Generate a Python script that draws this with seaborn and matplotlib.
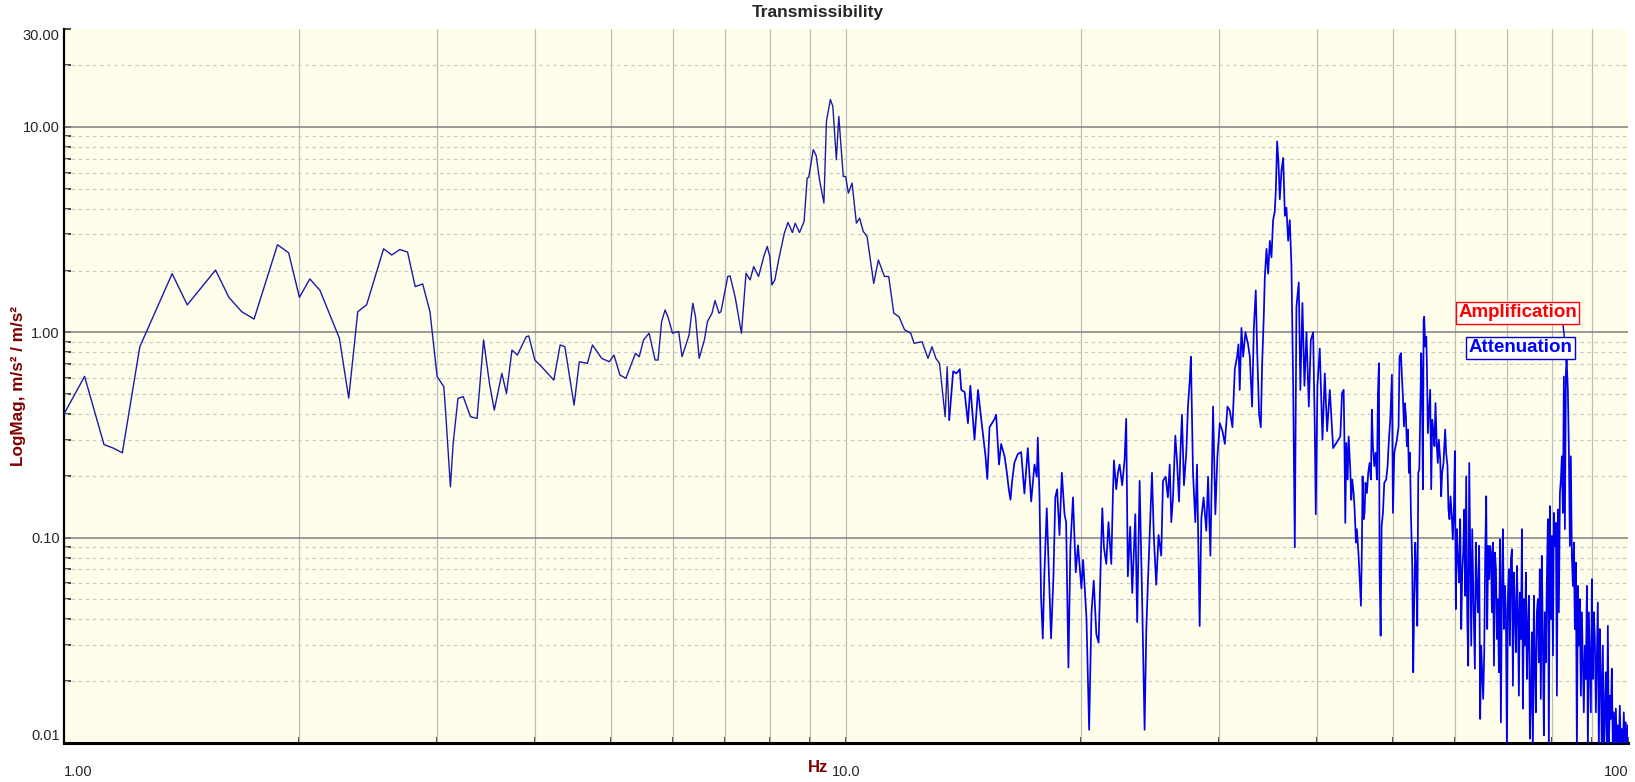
import numpy as np
import pandas as pd
import matplotlib
matplotlib.use("Agg")
import matplotlib.pyplot as plt
import seaborn as sns

sns.set_style("white")
plt.rcParams["font.family"] = ["Liberation Sans", "DejaVu Sans"]

# 1 - 13.5 Hz
freq_low = [1.0, 1.0625, 1.125, 1.156, 1.1875, 1.25, 1.375, 1.4375, 1.5625, 1.625,
            1.6875, 1.75, 1.875, 1.9375, 2.0, 2.0625, 2.125, 2.25, 2.3125, 2.375,
            2.4375, 2.5625, 2.625, 2.6875, 2.75, 2.8125, 2.875, 2.9375, 3.0, 3.06,
            3.075, 3.12, 3.145, 3.19, 3.24, 3.31, 3.375, 3.44, 3.50, 3.55,
            3.63, 3.68, 3.74, 3.80, 3.90, 3.93, 4.0, 4.08, 4.23, 4.31,
            4.37, 4.49, 4.56, 4.67, 4.74, 4.87, 4.98, 5.05, 5.14, 5.23,
            5.38, 5.44, 5.51, 5.60, 5.70, 5.75, 5.81, 5.87, 5.92, 6.0,
            6.11, 6.17, 6.30, 6.37, 6.42, 6.49, 6.59, 6.65, 6.74, 6.80,
            6.88, 6.92, 7.06, 7.11, 7.22, 7.35, 7.45, 7.54, 7.62, 7.73,
            7.85, 7.93, 7.99, 8.04, 8.11, 8.21, 8.34, 8.43, 8.54, 8.61,
            8.72, 8.84, 8.92, 8.96, 9.08, 9.16, 9.25, 9.37, 9.44, 9.55,
            9.62, 9.72, 9.79, 9.92, 9.99, 10.07, 10.18, 10.31, 10.41, 10.52,
            10.64, 10.85, 11.0, 11.2, 11.34, 11.51, 11.69, 11.88, 12.10, 12.22,
            12.51, 12.73, 12.88, 13.03, 13.17, 13.39, 13.47, 13.55]
mag_low = [0.40, 0.61, 0.284, 0.273, 0.259, 0.85, 1.93, 1.36, 2.01, 1.48,
           1.26, 1.16, 2.67, 2.44, 1.48, 1.82, 1.60, 0.935, 0.478, 1.26,
           1.36, 2.55, 2.38, 2.53, 2.46, 1.67, 1.72, 1.26, 0.61, 0.543,
           0.418, 0.177, 0.287, 0.477, 0.486, 0.388, 0.381, 0.918, 0.564, 0.418,
           0.631, 0.504, 0.82, 0.775, 0.952, 0.96, 0.733, 0.68, 0.585, 0.868,
           0.851, 0.442, 0.719, 0.706, 0.868, 0.747, 0.719, 0.775, 0.619, 0.597,
           0.79, 0.761, 0.918, 0.99, 0.733, 0.733, 1.127, 1.285, 1.19, 0.99,
           1.01, 0.761, 0.97, 1.385, 1.19, 0.747, 0.918, 1.127, 1.24, 1.427,
           1.24, 1.26, 1.87, 1.88, 1.465, 0.99, 1.94, 1.80, 2.09, 1.87,
           2.34, 2.62, 2.34, 1.70, 1.80, 2.30, 3.04, 3.43, 3.06, 3.40,
           3.06, 3.47, 5.64, 5.68, 7.75, 7.25, 5.53, 4.26, 10.66, 13.6,
           12.6, 6.93, 11.27, 5.74, 5.74, 4.76, 5.33, 3.40, 3.60, 3.10,
           2.93, 1.73, 2.25, 1.87, 1.87, 1.24, 1.19, 1.03, 0.99, 0.884,
           0.90, 0.747, 0.851, 0.747, 0.706, 0.388, 0.68, 0.374]

# 13.5 - 42 Hz
freq_mid = [13.57, 13.71, 13.84, 13.98, 14.04, 14.18, 14.32, 14.42, 14.60, 14.75,
            14.89, 15.08, 15.16, 15.26, 15.49, 15.56, 15.69, 15.79, 15.95, 16.06,
            16.15, 16.23, 16.31, 16.42, 16.58, 16.75, 16.91, 17.08, 17.25, 17.42,
            17.54, 17.59, 17.68, 17.76, 17.85, 17.93, 18.06, 18.17, 18.29, 18.42,
            18.52, 18.62, 18.75, 18.88, 19.03, 19.12, 19.25, 19.36, 19.51, 19.67,
            19.80, 20.0, 20.10, 20.30, 20.46, 20.60, 20.74, 20.90, 21.04, 21.21,
            21.27, 21.37, 21.52, 21.66, 21.84, 21.94, 22.01, 22.16, 22.27, 22.38,
            22.55, 22.71, 22.82, 22.93, 23.09, 23.23, 23.44, 23.57, 23.74, 23.93,
            24.09, 24.21, 24.33, 24.45, 24.62, 24.76, 24.93, 25.10, 25.30, 25.43,
            25.63, 25.80, 25.94, 26.06, 26.19, 26.37, 26.50, 26.66, 26.76, 26.89,
            27.05, 27.24, 27.37, 27.51, 27.61, 27.78, 27.97, 28.11, 28.33, 28.47,
            28.66, 28.89, 29.04, 29.24, 29.47, 29.67, 29.85, 30.06, 30.30, 30.51,
            30.75, 30.96, 31.20, 31.42, 31.63, 31.76, 31.88, 32.04, 32.20, 32.42,
            32.67, 32.84, 33.06, 33.23, 33.42, 33.55, 33.75, 33.92, 34.05, 34.22,
            34.32, 34.49, 34.66, 34.83, 35.0, 35.17, 35.34, 35.45, 35.59, 35.73,
            35.87, 36.05, 36.23, 36.41, 36.58, 36.76, 36.94, 37.12, 37.31, 37.49,
            37.67, 37.93, 38.11, 38.34, 38.57, 38.80, 39.07, 39.30, 39.57, 39.76,
            39.88, 40.07, 40.35, 40.67, 40.95, 41.23, 41.56, 41.97]
mag_mid = [0.397, 0.646, 0.631, 0.661, 0.524, 0.512, 0.361, 0.549, 0.30, 0.524,
           0.379, 0.249, 0.193, 0.345, 0.379, 0.397, 0.227, 0.286, 0.249, 0.207,
           0.172, 0.153, 0.189, 0.232, 0.255, 0.261, 0.164, 0.273, 0.150, 0.227,
           0.198, 0.307, 0.157, 0.0513, 0.0323, 0.0648, 0.139, 0.0678, 0.0323, 0.0648,
           0.157, 0.172, 0.103, 0.207, 0.13, 0.119, 0.0233, 0.0897, 0.157, 0.0678,
           0.0918, 0.0565, 0.078, 0.0407, 0.0116, 0.0427, 0.0618, 0.0338, 0.0308, 0.0985,
           0.139, 0.0897, 0.0745, 0.119, 0.0745, 0.157, 0.238, 0.172, 0.207, 0.227,
           0.18, 0.238, 0.379, 0.0648, 0.113, 0.0538, 0.13, 0.0388, 0.189, 0.0447,
           0.0116, 0.0354, 0.0618, 0.103, 0.207, 0.0985, 0.059, 0.103, 0.0817, 0.189,
           0.198, 0.157, 0.227, 0.119, 0.157, 0.314, 0.238, 0.15, 0.249, 0.397,
           0.18, 0.261, 0.435, 0.575, 0.76, 0.207, 0.119, 0.227, 0.0371, 0.124,
           0.157, 0.108, 0.198, 0.0817, 0.435, 0.13, 0.249, 0.361, 0.33, 0.286,
           0.435, 0.416, 0.345, 0.661, 0.76, 0.874, 0.524, 1.05, 0.76, 1.0,
           0.874, 0.76, 0.435, 1.05, 1.60, 0.834, 0.397, 0.345, 0.693, 1.21,
           1.84, 2.55, 1.93, 2.79, 2.32, 3.52, 3.87, 4.88, 8.5, 6.75,
           4.45, 6.15, 7.07, 3.69, 4.05, 2.79, 3.52, 2.11, 0.549, 0.0897,
           1.33, 1.75, 0.524, 1.39, 0.549, 1.0, 0.435, 0.916, 1.0, 0.345,
           0.13, 0.549, 0.834, 0.30, 0.631, 0.33, 0.524, 0.273]

# 42 - 66.7 Hz
freq_high = [42.87, 43.08, 43.29, 43.38, 43.50, 43.63, 43.80, 43.93, 44.14, 44.27,
             44.40, 44.58, 44.71, 44.89, 45.01, 45.24, 45.46, 45.55, 45.68, 45.77,
             45.91, 46.04, 46.17, 46.36, 46.54, 46.72, 46.91, 47.04, 47.19, 47.37,
             47.56, 47.75, 47.89, 48.03, 48.12, 48.27, 48.41, 48.60, 48.79, 49.07,
             49.27, 49.46, 49.66, 49.90, 50.05, 50.25, 50.44, 50.64, 50.89, 51.03,
             51.24, 51.39, 51.54, 51.70, 51.85, 52.0, 52.15, 52.31, 52.46, 52.62,
             52.77, 52.98, 53.13, 53.29, 53.45, 53.61, 53.77, 53.93, 54.09, 54.24,
             54.40, 54.51, 54.67, 54.78, 54.88, 55.04, 55.21, 55.31, 55.47, 55.64,
             55.85, 56.02, 56.19, 56.41, 56.56, 56.73, 56.95, 57.12, 57.29, 57.52,
             57.69, 57.85, 58.08, 58.37, 58.54, 58.77, 58.94, 59.12, 59.30, 59.53,
             59.70, 59.88, 60.06, 60.24, 60.42, 60.60, 60.83, 61.01, 61.20, 61.38,
             61.56, 61.74, 61.92, 62.10, 62.29, 62.47, 62.66, 62.84, 63.03, 63.21,
             63.46, 63.71, 63.89, 64.08, 64.27, 64.52, 64.71, 64.90, 65.09, 65.28,
             65.48, 65.67, 65.87, 66.06, 66.26, 66.45, 66.65]
mag_high = [0.311, 0.506, 0.525, 0.311, 0.118, 0.289, 0.192, 0.311, 0.215, 0.153,
            0.192, 0.165, 0.137, 0.0946, 0.110, 0.0815, 0.054, 0.0466, 0.0912, 0.199,
            0.123, 0.132, 0.185, 0.165, 0.207, 0.231, 0.192, 0.42, 0.279, 0.223,
            0.259, 0.192, 0.506, 0.707, 0.0676, 0.0333, 0.114, 0.132, 0.185, 0.192,
            0.223, 0.30, 0.375, 0.621, 0.132, 0.259, 0.279, 0.30, 0.348, 0.762,
            0.791, 0.609, 0.488, 0.348, 0.452, 0.39, 0.279, 0.336, 0.207, 0.259,
            0.132, 0.0728, 0.0221, 0.0502, 0.0946, 0.0676, 0.0372, 0.207, 0.215, 0.404,
            0.791, 0.587, 0.172, 1.148, 1.191, 0.852, 0.953, 0.707, 0.323, 0.404,
            0.525, 0.172, 0.375, 0.323, 0.279, 0.452, 0.279, 0.231, 0.30, 0.24,
            0.159, 0.207, 0.231, 0.336, 0.259, 0.223, 0.137, 0.123, 0.159, 0.127,
            0.098, 0.132, 0.264, 0.0449, 0.110, 0.0815, 0.0605, 0.123, 0.0359, 0.0676,
            0.0846, 0.137, 0.0521, 0.199, 0.0417, 0.0238, 0.231, 0.0815, 0.0298, 0.110,
            0.0466, 0.023, 0.0946, 0.0582, 0.0433, 0.0912, 0.0131, 0.0298, 0.0221, 0.0164,
            0.0267, 0.0815, 0.159, 0.0359, 0.0912, 0.0628, 0.0912]

# 66.7 - 100 Hz
freq_top = [66.8, 66.99, 67.19, 67.39, 67.59, 67.79, 67.98, 68.18, 68.38, 68.59,
            68.78, 68.99, 69.19, 69.40, 69.59, 69.80, 70.01, 70.22, 70.43, 70.63,
            70.84, 71.05, 71.26, 71.46, 71.67, 71.89, 72.10, 72.32, 72.52, 72.74,
            72.96, 73.18, 73.38, 73.60, 73.82, 74.04, 74.25, 74.47, 74.69, 74.91,
            75.14, 75.35, 75.57, 75.80, 76.02, 76.23, 76.46, 76.69, 76.92, 77.13,
            77.36, 77.59, 77.83, 78.06, 78.28, 78.51, 78.75, 78.99, 79.21, 79.45,
            79.69, 79.93, 80.17, 80.39, 80.63, 80.87, 81.11, 81.34, 81.58, 81.83,
            82.07, 82.30, 82.55, 82.80, 83.04, 83.29, 83.45, 83.77, 84.02, 84.27,
            84.51, 84.76, 85.02, 85.27, 85.51, 85.77, 86.03, 86.28, 86.54, 86.78,
            87.04, 87.30, 87.56, 87.80, 88.07, 88.33, 88.60, 88.86, 89.11, 89.38,
            89.64, 89.91, 90.16, 90.43, 90.70, 90.97, 91.22, 91.50, 91.77, 92.05,
            92.32, 92.58, 92.86, 93.14, 93.42, 93.67, 93.96, 94.24, 94.52, 94.78,
            95.06, 95.35, 95.64, 95.90, 96.19, 96.48, 96.77, 97.04, 97.33, 97.62,
            97.91, 98.18, 98.48, 98.77, 99.07, 99.34, 99.64, 99.94]
mag_top = [0.0846, 0.0433, 0.0946, 0.0238, 0.0846, 0.0702, 0.0321, 0.0502, 0.0221, 0.098,
           0.0126, 0.0582, 0.110, 0.0359, 0.0582, 0.0433, 0.009, 0.0521, 0.0702, 0.0298,
           0.0785, 0.0878, 0.019, 0.0676, 0.0449, 0.0277, 0.0728, 0.0433, 0.017, 0.054,
           0.0321, 0.110, 0.0147, 0.0502, 0.0298, 0.0676, 0.0205, 0.0359, 0.0521, 0.0105,
           0.0164, 0.0346, 0.009, 0.0521, 0.0238, 0.0141, 0.0433, 0.0502, 0.0247, 0.0702,
           0.0164, 0.0815, 0.031, 0.0109, 0.0433, 0.0247, 0.0628, 0.123, 0.009, 0.1425,
           0.040, 0.102, 0.0267, 0.132, 0.0912, 0.118, 0.017, 0.137, 0.0433, 0.165,
           0.192, 0.249, 0.132, 0.609, 0.110, 0.632, 0.75, 0.525, 0.268, 0.0912,
           0.249, 0.0815, 0.0582, 0.0946, 0.0359, 0.0756, 0.009, 0.0582, 0.0298, 0.0502,
           0.017, 0.0433, 0.0247, 0.0141, 0.0298, 0.0205, 0.0582, 0.009, 0.0433, 0.0247,
           0.0141, 0.0628, 0.0205, 0.0433, 0.0321, 0.0141, 0.0247, 0.0483, 0.009, 0.0359,
           0.0205, 0.009, 0.0298, 0.009, 0.0141, 0.0221, 0.009, 0.0372, 0.009, 0.017,
           0.0131, 0.023, 0.009, 0.0141, 0.009, 0.0147, 0.009, 0.0122, 0.009, 0.0152,
           0.009, 0.0117, 0.009, 0.0141, 0.009, 0.0126, 0.009, 0.0122]

peak_hz = 83.45
peak_mag = 0.75

df_low = pd.DataFrame({"Hz": freq_low, "mag": mag_low})
# start the upper band at the last low point so the curve stays joined
df_rest = pd.DataFrame({
    "Hz": freq_low[-1:] + freq_mid + freq_high + freq_top,
    "mag": mag_low[-1:] + mag_mid + mag_high + mag_top,
})

fig = plt.figure(figsize=(16.35, 7.82), dpi=100)
fig.patch.set_facecolor("white")
ax = fig.add_axes([64 / 1635, 39 / 782, 1564 / 1635, 714 / 782])
ax.set_facecolor("#FEFEEA")
ax.set_xscale("log")
ax.set_yscale("log")
ax.set_xlim(1, 100)
ax.set_ylim(0.01, 30)

# grid
y_major = [0.1, 1, 10]
y_minor = [m * d for d in [0.01, 0.1, 1] for m in range(2, 10)] + [20]
x_lines = [m * d for d in [1, 10] for m in range(2, 10)] + [10]
for v in x_lines:
    ax.axvline(v, color="#BBBBBB", lw=0.85, zorder=1)
for v in y_minor:
    ax.axhline(v, color="#C8C8C8", lw=0.85, ls=(0, (3, 3)), zorder=1)
for v in y_major:
    ax.axhline(v, color="#7F7F7F", lw=1.1, zorder=1.5)

sns.lineplot(data=df_low, x="Hz", y="mag", ax=ax, color="#1A1AA8", lw=1.0,
             estimator=None, sort=False, legend=False, zorder=3)
sns.lineplot(data=df_rest, x="Hz", y="mag", ax=ax, color="#0000EE", lw=1.25,
             estimator=None, sort=False, legend=False, zorder=3)

# ticks
ax.set_yticks([0.01, 0.1, 1, 10, 30])
ax.set_yticklabels(["0.01", "0.10", "1.00", "10.00", "30.00"])
ax.set_yticks(y_minor, minor=True)
ax.set_xticks([1, 10, 100])
ax.set_xticklabels(["1.00", "10.0", "100"])
ax.set_xticks(x_lines[:16], minor=True)
ax.tick_params(axis="y", which="both", direction="in", length=5, width=1.2,
               pad=3, labelsize=10.5, left=True)
ax.tick_params(axis="x", which="both", direction="in", length=4, width=1.2,
               pad=16, labelsize=10.5, bottom=True)
ax.xaxis.set_minor_formatter(plt.NullFormatter())
ax.yaxis.set_minor_formatter(plt.NullFormatter())
yt = ax.yaxis.get_major_ticks()
yt[0].label1.set_va("bottom")
yt[-1].label1.set_va("top")
xt = ax.xaxis.get_major_ticks()
xt[0].label1.set_ha("left")
xt[-1].label1.set_ha("right")

for side in ["top", "right"]:
    ax.spines[side].set_visible(False)
ax.spines["left"].set_linewidth(1.6)
ax.spines["bottom"].set_linewidth(2.2)
ax.spines["left"].set_color("black")
ax.spines["bottom"].set_color("black")

ax.set_xlabel("Hz", color="#800000", fontweight="bold", fontsize=12)
ax.xaxis.set_label_coords(0.482, -0.034)
ax.xaxis.label.set_va("center")
ax.set_ylabel("LogMag, m/s² / m/s²", color="#800000", fontweight="bold", fontsize=12.3)
ax.yaxis.set_label_coords(-0.029, 0.5)
ax.yaxis.label.set_va("center")

fig.text(0.5, 1 - 12 / 782, "Transmissibility", ha="center", va="center",
         fontsize=12.5, fontweight="bold")

# marker labels
ax.annotate("Amplification", xy=(peak_hz, peak_mag), xytext=(-49, 45),
            textcoords="offset pixels", ha="center", va="center",
            color="#FF0000", fontweight="bold", fontsize=13.5, zorder=5,
            bbox=dict(boxstyle="square,pad=0.12", fc="white", ec="#FF0000", lw=1),
            arrowprops=dict(arrowstyle="-", color="#0000CC", lw=1,
                            relpos=(0.88, 0), shrinkA=0, shrinkB=0))
ax.annotate("Attenuation", xy=(peak_hz, peak_mag), xytext=(-46, 10),
            textcoords="offset pixels", ha="center", va="center",
            color="#0000FF", fontweight="bold", fontsize=13.5, zorder=6,
            bbox=dict(boxstyle="square,pad=0.12", fc="white", ec="#0000CC", lw=1),
            arrowprops=dict(arrowstyle="-", color="#0000CC", lw=1,
                            relpos=(0.9, 0), shrinkA=0, shrinkB=0))

fig.savefig("out.png", dpi=100, facecolor="white")
